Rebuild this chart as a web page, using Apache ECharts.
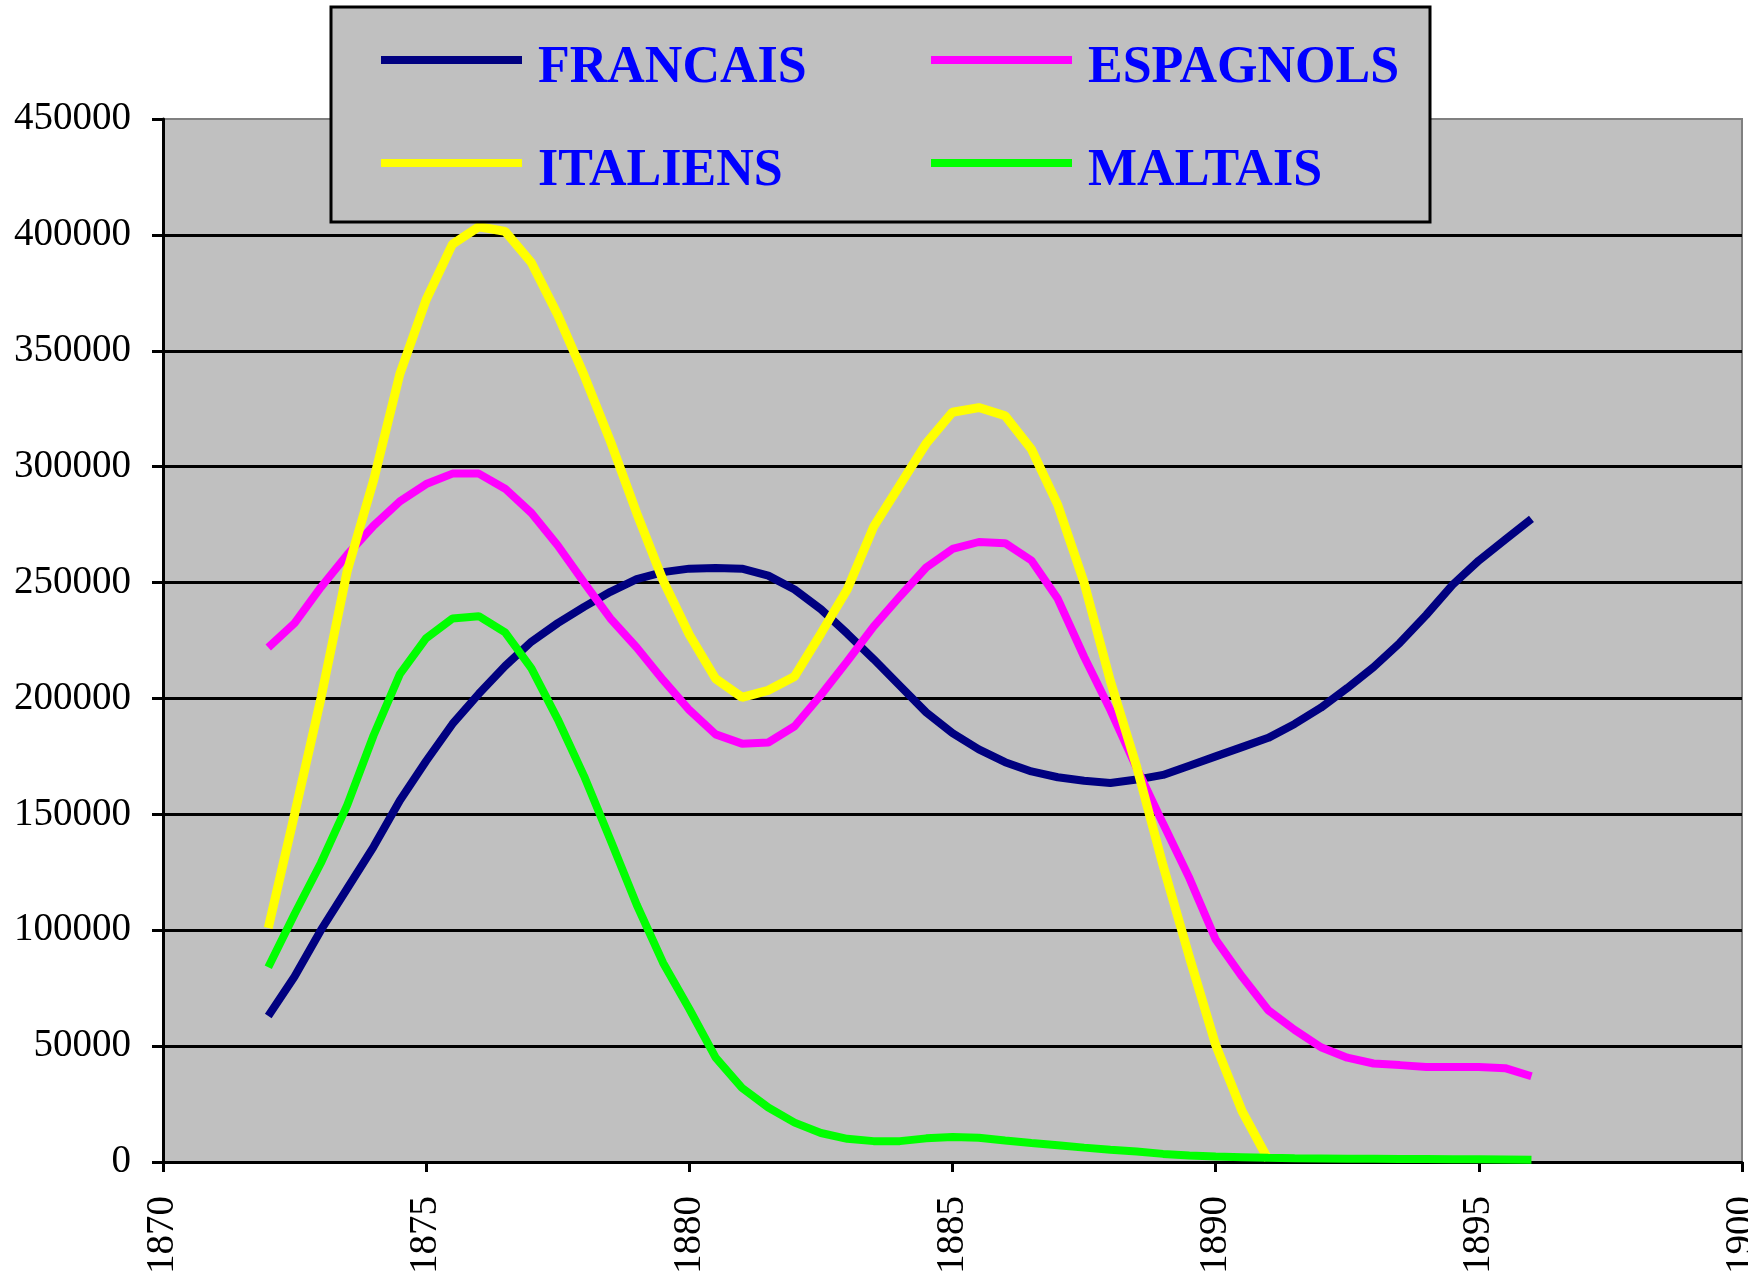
<!DOCTYPE html>
<html>
<head>
<meta charset="utf-8">
<script src="https://cdn.jsdelivr.net/npm/echarts@6/dist/echarts.min.js"></script>
<style>
  html, body { margin: 0; padding: 0; background: #fff; }
  #chart { width: 1748px; height: 1276px; }
</style>
</head>
<body>
<div id="chart"></div>
<script>
const years = [1872, 1872.5, 1873, 1873.5, 1874, 1874.5, 1875, 1875.5, 1876, 1876.5,
  1877, 1877.5, 1878, 1878.5, 1879, 1879.5, 1880, 1880.5, 1881, 1881.5,
  1882, 1882.5, 1883, 1883.5, 1884, 1884.5, 1885, 1885.5, 1886, 1886.5,
  1887, 1887.5, 1888, 1888.5, 1889, 1889.5, 1890, 1890.5, 1891, 1891.5,
  1892, 1892.5, 1893, 1893.5, 1894, 1894.5, 1895, 1895.5, 1896]

const francais = [63000, 80000, 100000, 118000, 136000, 156000, 173000, 189000, 202000, 214000,
  224500, 232500, 239500, 246000, 251500, 254500, 256000, 256300, 256000, 253000,
  247000, 238500, 228000, 217000, 205500, 194000, 185000, 178000, 172500, 168500,
  166000, 164500, 163500, 165000, 167000, 171000, 175000, 179000, 183000, 189000,
  196000, 204500, 213500, 224000, 236000, 249000, 259500, 268500, 277500]

const espagnols = [222000, 232500, 248000, 262000, 274500, 285000, 292500, 297000, 297000, 290500,
  280000, 266000, 250000, 234500, 222000, 208000, 195000, 184500, 180500, 181000,
  188000, 201500, 216000, 231000, 244000, 256500, 264500, 267500, 267000, 259500,
  243000, 218000, 195000, 170000, 146000, 122500, 96000, 80000, 65500, 57000,
  49500, 45000, 42500, 41800, 41000, 41000, 41000, 40500, 37000]

// plus de valeur apres 1891
const italiens = [101000, 150000, 200000, 255000, 294000, 340000, 372000, 396000, 403500, 401500,
  388000, 365500, 339500, 311000, 280000, 251000, 227500, 208500, 200500, 203500,
  209500, 228000, 247000, 274000, 292000, 310000, 323500, 325500, 322000, 307500,
  283500, 250000, 207500, 170500, 128000, 88500, 50500, 22000, 1000, null,
  null, null, null, null, null, null, null, null, null]

const maltais = [84000, 107000, 129000, 154000, 184000, 210500, 226000, 234500, 235500, 228500,
  213000, 191000, 166500, 139000, 111000, 86000, 66000, 45000, 32000, 23500,
  17000, 12500, 10000, 9000, 9000, 10200, 10800, 10500, 9300, 8200,
  7200, 6200, 5300, 4500, 3500, 2800, 2400, 2100, 1800, 1600,
  1500, 1400, 1400, 1300, 1300, 1200, 1200, 1100, 1000]

const seriesNames = ['FRANCAIS', 'ESPAGNOLS', 'ITALIENS', 'MALTAIS']
const seriesValues = [francais, espagnols, italiens, maltais]
const seriesColors = ['#000080', '#FF00FF', '#FFFF00', '#00FF00']

const labelFont = 'Liberation Serif, Times New Roman, serif'

function pairs(values) {
  return years.map((y, i) => [y, values[i]])
}

// texte un peu plus bas que le trait, comme dans l'original
const legendText = {
  fontFamily: labelFont,
  fontWeight: 'bold',
  fontSize: 52,
  color: '#0000FF',
  rich: {
    t: {
      fontFamily: labelFont,
      fontWeight: 'bold',
      fontSize: 52,
      color: '#0000FF',
      lineHeight: 56,
      padding: [18, 0, 0, 11]
    }
  }
}

const chart = echarts.init(document.getElementById('chart'))

chart.setOption({
  animation: false,
  backgroundColor: '#ffffff',
  color: seriesColors,
  grid: {
    left: 163,
    right: 6,
    top: 119,
    bottom: 114,
    outerBoundsMode: 'none',
    containLabel: false,
    show: true,
    backgroundColor: '#C0C0C0',
    borderColor: '#808080',
    borderWidth: 2
  },
  graphic: [
    {
      type: 'rect',
      z: 5,
      shape: { x: 331, y: 7, width: 1099, height: 215 },
      style: { fill: '#C0C0C0', stroke: '#000000', lineWidth: 3 }
    }
  ],
  legend: [
    {
      data: ['FRANCAIS', 'ITALIENS'],
      orient: 'vertical',
      left: 381,
      top: 25,
      padding: 0,
      itemWidth: 141,
      itemHeight: 8,
      itemGap: 33,
      icon: 'rect',
      selectedMode: false,
      z: 10,
      formatter: '{t|{name}}',
      textStyle: legendText
    },
    {
      data: ['ESPAGNOLS', 'MALTAIS'],
      orient: 'vertical',
      left: 931,
      top: 25,
      padding: 0,
      itemWidth: 141,
      itemHeight: 8,
      itemGap: 33,
      icon: 'rect',
      selectedMode: false,
      z: 10,
      formatter: '{t|{name}}',
      textStyle: legendText
    }
  ],
  xAxis: {
    type: 'value',
    min: 1870,
    max: 1900,
    interval: 5,
    axisLine: { lineStyle: { color: '#000', width: 3 } },
    axisTick: { show: true, length: 10, lineStyle: { color: '#000', width: 3 } },
    axisLabel: {
      rotate: 90,
      margin: 34,
      fontFamily: labelFont,
      fontSize: 39,
      color: '#000',
      formatter: v => String(v)
    },
    splitLine: { show: false }
  },
  yAxis: {
    type: 'value',
    min: 0,
    max: 450000,
    interval: 50000,
    axisLine: { show: true, lineStyle: { color: '#000', width: 3 } },
    axisTick: { show: true, length: 11, lineStyle: { color: '#000', width: 3 } },
    axisLabel: {
      margin: 32,
      fontFamily: labelFont,
      fontSize: 39,
      color: '#000',
      formatter: v => String(v)
    },
    splitLine: { show: true, showMaxLine: false, lineStyle: { color: '#000', width: 3 } }
  },
  series: seriesNames.map((name, i) => ({
    name: name,
    type: 'line',
    data: pairs(seriesValues[i]),
    showSymbol: false,
    symbol: 'none',
    connectNulls: false,
    lineStyle: { width: name === 'ITALIENS' ? 9 : 8, color: seriesColors[i] },
    itemStyle: { color: seriesColors[i] }
  }))
})
</script>
</body>
</html>
